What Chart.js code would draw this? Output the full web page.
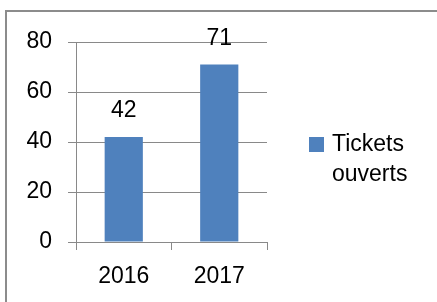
<!DOCTYPE html>
<html lang="fr">
<head>
  <meta charset="UTF-8">
  <title>Tickets ouverts</title>
  <script src="https://cdn.jsdelivr.net/npm/chart.js"></script>
  <style>
    body { margin: 0; background: #fff; }
    #wrap { width: 437px; height: 302px; }
  </style>
</head>
<body>
  <div id="wrap"><canvas id="ticketsChart" width="437" height="302"></canvas></div>

  <script>
    const years = ['2016', '2017'];
    const ticketsOpened = [42, 71];
    const legendLines = ['Tickets', 'ouverts'];
    const yTicks = [0, 20, 40, 60, 80];

    const FONT = '"Liberation Sans", Arial, sans-serif';
    const gridColor = '#898989';
    const barColor = '#4F81BD';

    // frame around the chart (only top and left edge visible in the picture)
    const framePlugin = {
      id: 'frame',
      beforeDraw(chart) {
        const ctx = chart.ctx;
        ctx.save();
        ctx.fillStyle = '#fff';
        ctx.fillRect(0, 0, chart.width, chart.height);
        ctx.strokeStyle = '#8c8c8c';
        ctx.lineWidth = 2;
        ctx.strokeRect(6, 11, chart.width + 20, chart.height + 20);
        ctx.restore();
      }
    };

    // value labels above bars
    const valueLabels = {
      id: 'valueLabels',
      afterDatasetsDraw(chart) {
        const ctx = chart.ctx;
        const meta = chart.getDatasetMeta(0);
        ctx.save();
        ctx.font = '23px ' + FONT;
        ctx.fillStyle = '#000';
        ctx.textAlign = 'center';
        ctx.textBaseline = 'middle';
        meta.data.forEach((bar, i) => {
          ctx.fillText(String(chart.data.datasets[0].data[i]), bar.x, bar.y - 26);
        });
        ctx.restore();
      }
    };

    // legend on the right, label wrapped on two lines
    const sideLegend = {
      id: 'sideLegend',
      afterDraw(chart) {
        const ctx = chart.ctx;
        const ds = chart.data.datasets[0];
        ctx.save();
        ctx.fillStyle = ds.backgroundColor;
        ctx.fillRect(309, 137, 15, 15);
        ctx.font = '23px ' + FONT;
        ctx.fillStyle = '#000';
        ctx.textAlign = 'left';
        ctx.textBaseline = 'middle';
        legendLines.forEach((line, i) => ctx.fillText(line, 332, 145 + i * 30));
        ctx.restore();
      }
    };

    new Chart(document.getElementById('ticketsChart'), {
      type: 'bar',
      data: {
        labels: years,
        datasets: [{
          label: legendLines.join(' '),
          data: ticketsOpened,
          backgroundColor: barColor,
          barPercentage: 0.4,
          categoryPercentage: 1
        }]
      },
      options: {
        responsive: false,
        animation: false,
        layout: { padding: { top: 42, right: 170, bottom: 0, left: 0 } },
        plugins: { legend: { display: false }, tooltip: { enabled: false } },
        scales: {
          x: {
            grid: { drawOnChartArea: false, drawTicks: true, tickLength: 8, color: gridColor, offset: true },
            border: { display: true, color: gridColor, width: 1 },
            ticks: { font: { family: FONT, size: 23 }, color: '#000', padding: 13, maxRotation: 0 },
            afterFit(s) { s.height = 60; }
          },
          y: {
            min: 0,
            max: 80,
            afterBuildTicks(s) { s.ticks = yTicks.map(v => ({ value: v })); },
            grid: { color: gridColor, tickLength: 8 },
            border: { display: true, color: gridColor, width: 1 },
            ticks: { font: { family: FONT, size: 23 }, color: '#000', padding: 16 },
            afterFit(s) { s.width = 76; }
          }
        }
      },
      plugins: [framePlugin, valueLabels, sideLegend]
    });
  </script>
</body>
</html>
